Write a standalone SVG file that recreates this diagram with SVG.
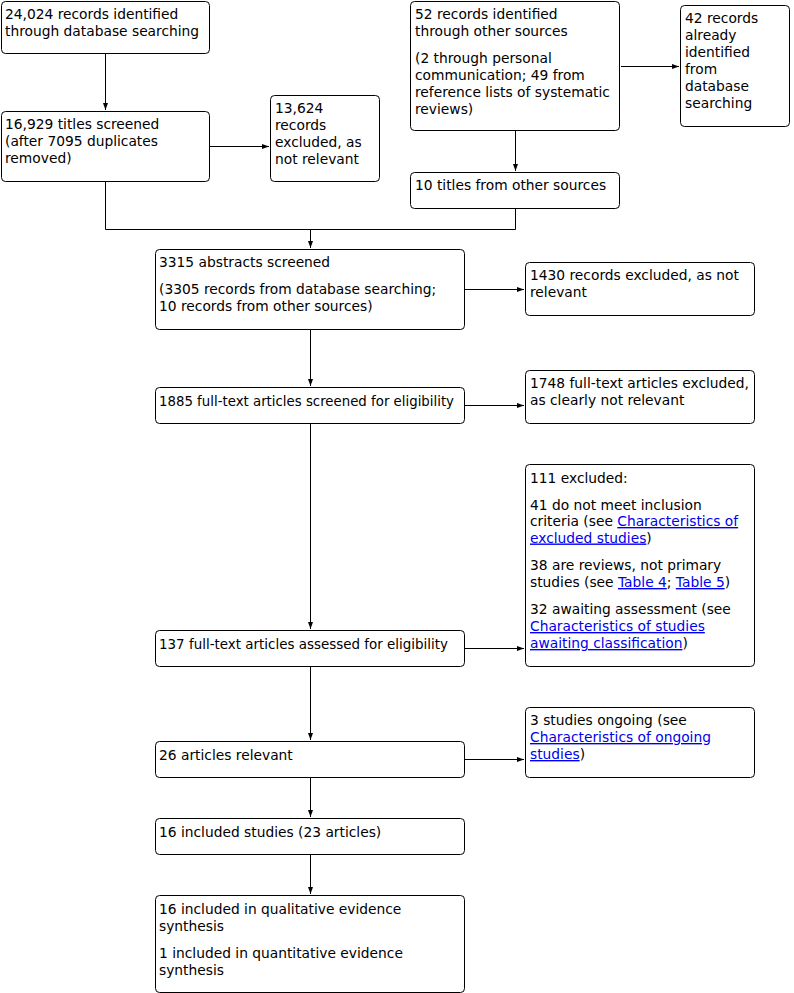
<svg xmlns="http://www.w3.org/2000/svg" width="794" height="993" viewBox="0 0 794 993">
<style>
.box{fill:#fff;stroke:#000;stroke-width:1}
text{font-family:"DejaVu Sans",Verdana,sans-serif;font-size:13.8px;fill:#000}
.lnk{fill:#0000ee;text-decoration:underline}
.con{fill:none;stroke:#000;stroke-width:1}
</style>
<defs>
<marker id="ah" viewBox="0 0 7 6" refX="7" refY="3" markerWidth="7" markerHeight="6" markerUnits="userSpaceOnUse" orient="auto">
<path d="M0,0.5 L7,3 L0,5.5 z" fill="#000"/>
</marker>
</defs>
<rect width="794" height="993" fill="#fff"/>
<g id="connectors">
<path class="con" d="M105.5,53 V110" marker-end="url(#ah)"/>
<path class="con" d="M210,146.5 H269" marker-end="url(#ah)"/>
<path class="con" d="M621,66.5 H679" marker-end="url(#ah)"/>
<path class="con" d="M515.5,130 V171" marker-end="url(#ah)"/>
<path class="con" d="M105.5,181 V229.5 H515.5 V208"/>
<path class="con" d="M310.5,229.5 V248" marker-end="url(#ah)"/>
<path class="con" d="M465,289.5 H524" marker-end="url(#ah)"/>
<path class="con" d="M310.5,329 V386" marker-end="url(#ah)"/>
<path class="con" d="M465,405.5 H524" marker-end="url(#ah)"/>
<path class="con" d="M310.5,423 V629" marker-end="url(#ah)"/>
<path class="con" d="M465,648.5 H524" marker-end="url(#ah)"/>
<path class="con" d="M310.5,666 V740" marker-end="url(#ah)"/>
<path class="con" d="M465,759.5 H524" marker-end="url(#ah)"/>
<path class="con" d="M310.5,777 V817" marker-end="url(#ah)"/>
<path class="con" d="M310.5,854 V894" marker-end="url(#ah)"/>
</g>
<g id="n1"><rect class="box" x="1.5" y="1.5" width="208" height="52" rx="4"/>
<text x="5" y="18.5">24,024 records identified</text><text x="5" y="35.5">through database searching</text></g>
<g id="n2"><rect class="box" x="1.5" y="111.5" width="208" height="70" rx="4"/>
<text x="5" y="129">16,929 titles screened</text><text x="5" y="146">(after 7095 duplicates</text><text x="5" y="163">removed)</text></g>
<g id="n3"><rect class="box" x="270.5" y="95.5" width="109" height="86" rx="4"/>
<text x="275" y="112.5">13,624</text><text x="275" y="129.5">records</text><text x="275" y="146.5">excluded, as</text><text x="275" y="163.5">not relevant</text></g>
<g id="n4"><rect class="box" x="410.5" y="1.5" width="209" height="129" rx="4"/>
<text x="415" y="18.5">52 records identified</text><text x="415" y="35.5">through other sources</text>
<text x="415" y="62.5">(2 through personal</text><text x="415" y="79.5">communication; 49 from</text><text x="415" y="96.5">reference lists of systematic</text><text x="415" y="113.5">reviews)</text></g>
<g id="n5"><rect class="box" x="680.5" y="5.5" width="109" height="121" rx="4"/>
<text x="685" y="23">42 records</text><text x="685" y="40">already</text><text x="685" y="57">identified</text><text x="685" y="74">from</text><text x="685" y="91">database</text><text x="685" y="108">searching</text></g>
<g id="n6"><rect class="box" x="410.5" y="172.5" width="209" height="36" rx="4"/>
<text x="415" y="190">10 titles from other sources</text></g>
<g id="n7"><rect class="box" x="155.5" y="249.5" width="309" height="80" rx="4"/>
<text x="159" y="267">3315 abstracts screened</text><text x="159" y="294">(3305 records from database searching;</text><text x="159" y="311">10 records from other sources)</text></g>
<g id="n8"><rect class="box" x="525.5" y="262.5" width="229" height="53" rx="4"/>
<text x="530" y="280">1430 records excluded, as not</text><text x="530" y="297">relevant</text></g>
<g id="n9"><rect class="box" x="155.5" y="387.5" width="309" height="36" rx="4"/>
<text x="159" y="406" textLength="295" lengthAdjust="spacingAndGlyphs">1885 full-text articles screened for eligibility</text></g>
<g id="n10"><rect class="box" x="525.5" y="370.5" width="229" height="53" rx="4"/>
<text x="530" y="388">1748 full-text articles excluded,</text><text x="530" y="405">as clearly not relevant</text></g>
<g id="n11"><rect class="box" x="525.5" y="464.5" width="229" height="202" rx="4"/>
<text x="530" y="482.5">111 excluded:</text>
<text x="530" y="509.5">41 do not meet inclusion</text>
<text x="530" y="526">criteria (see <tspan class="lnk">Characteristics of</tspan></text>
<text x="530" y="542.5"><tspan class="lnk">excluded studies</tspan>)</text>
<text x="530" y="570">38 are reviews, not primary</text>
<text x="530" y="587">studies (see <tspan class="lnk">Table 4</tspan>; <tspan class="lnk">Table 5</tspan>)</text>
<text x="530" y="614">32 awaiting assessment (see</text>
<text x="530" y="631"><tspan class="lnk">Characteristics of studies</tspan></text>
<text x="530" y="648"><tspan class="lnk">awaiting classification</tspan>)</text></g>
<g id="n12"><rect class="box" x="155.5" y="630.5" width="309" height="36" rx="4"/>
<text x="159" y="649" textLength="289" lengthAdjust="spacingAndGlyphs">137 full-text articles assessed for eligibility</text></g>
<g id="n13"><rect class="box" x="525.5" y="707.5" width="229" height="70" rx="4"/>
<text x="530" y="725">3 studies ongoing (see</text>
<text x="530" y="742"><tspan class="lnk">Characteristics of ongoing</tspan></text>
<text x="530" y="759"><tspan class="lnk">studies</tspan>)</text></g>
<g id="n14"><rect class="box" x="155.5" y="741.5" width="309" height="36" rx="4"/>
<text x="159" y="760">26 articles relevant</text></g>
<g id="n15"><rect class="box" x="155.5" y="818.5" width="309" height="36" rx="4"/>
<text x="159" y="837">16 included studies (23 articles)</text></g>
<g id="n16"><rect class="box" x="155.5" y="895.5" width="309" height="97" rx="4"/>
<text x="159" y="913.5">16 included in qualitative evidence</text><text x="159" y="930.5">synthesis</text>
<text x="159" y="957.5">1 included in quantitative evidence</text><text x="159" y="974.5">synthesis</text></g>
</svg>
